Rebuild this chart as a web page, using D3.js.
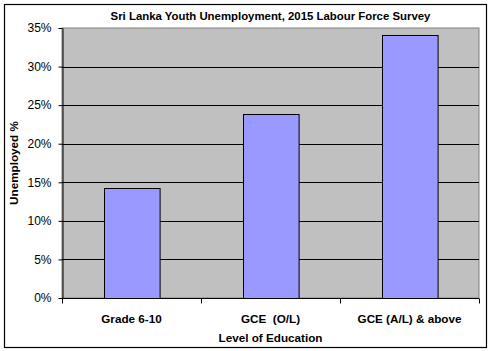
<!DOCTYPE html>
<html>
<head>
<meta charset="utf-8">
<script src="https://cdn.jsdelivr.net/npm/d3@7"></script>
<style>
  body { margin: 0; background: #fff; }
  text { font-family: "Liberation Sans", Arial, sans-serif; }
</style>
</head>
<body>
<script>
// data
var categories = ["Grade 6-10", "GCE  (O/L)", "GCE (A/L) & above"];
var unemployed = [14.2, 23.9, 34.1];
var yTicks = [0, 5, 10, 15, 20, 25, 30, 35];

var W = 489, H = 351;
var margin = {top: 28, right: 10, bottom: 53, left: 62},
    width = 479 - margin.left,
    height = 298 - margin.top;

var svg = d3.select("body").append("svg")
    .attr("width", W)
    .attr("height", H);

// outer chart border
svg.append("rect")
    .attr("x", 4.5).attr("y", 4.5)
    .attr("width", 482).attr("height", 343)
    .attr("fill", "#fff")
    .attr("stroke", "#000")
    .attr("stroke-width", 1.2);

var g = svg.append("g")
    .attr("transform", "translate(" + margin.left + "," + margin.top + ")");

var x = d3.scaleBand()
    .domain(categories)
    .range([0, width])
    .paddingInner(0.6)
    .paddingOuter(0.3);

var y = d3.scaleLinear()
    .domain([0, 35])
    .range([height, 0]);

// plot area
g.append("rect")
    .attr("width", width).attr("height", height)
    .attr("fill", "#c0c0c0")
    .attr("stroke", "#808080")
    .attr("stroke-width", 1);

// gridlines
g.selectAll(".grid")
    .data(yTicks.slice(1, -1))
    .enter().append("line")
    .attr("x1", 0).attr("x2", width)
    .attr("y1", function(d) { return Math.round(y(d)) + 0.5; })
    .attr("y2", function(d) { return Math.round(y(d)) + 0.5; })
    .attr("stroke", "#000")
    .attr("stroke-width", 1);

// bars
g.selectAll(".bar")
    .data(unemployed)
    .enter().append("rect")
    .attr("x", function(d, i) { return Math.round(x(categories[i])) + 0.5; })
    .attr("y", function(d) { return Math.round(y(d)) + 0.5; })
    .attr("width", x.bandwidth())
    .attr("height", function(d) { return height - Math.round(y(d)); })
    .attr("fill", "#9999ff")
    .attr("stroke", "#000")
    .attr("stroke-width", 1);

// y axis
var yAxis = g.append("g")
    .attr("transform", "translate(0.5,0)")
    .call(d3.axisLeft(y).tickValues(yTicks).tickSize(4).tickSizeOuter(0)
        .tickFormat(function(d) { return d + "%"; }));
yAxis.select(".domain").attr("stroke", "#000");
yAxis.selectAll("text")
    .attr("font-size", 12)
    .attr("fill", "#000")
    .attr("font-family", "Liberation Sans, Arial, sans-serif")
    .attr("dx", -4);

// x axis: ticks at band boundaries
var xAxis = g.append("g")
    .attr("transform", "translate(0," + (height + 0.5) + ")");
xAxis.append("line")
    .attr("x1", 0).attr("x2", width)
    .attr("stroke", "#000");
var step = width / categories.length;
xAxis.selectAll(".tick")
    .data(d3.range(categories.length + 1))
    .enter().append("line")
    .attr("x1", function(d) { return Math.round(d * step) + 0.5; })
    .attr("x2", function(d) { return Math.round(d * step) + 0.5; })
    .attr("y1", 0).attr("y2", 5)
    .attr("stroke", "#000");
xAxis.selectAll("text")
    .data(categories)
    .enter().append("text")
    .attr("x", function(d) { return x(d) + x.bandwidth() / 2; })
    .attr("y", 24)
    .attr("text-anchor", "middle")
    .attr("font-size", 11.7)
    .attr("font-weight", "bold")
    .style("white-space", "pre")
    .text(function(d) { return d; });

// titles
svg.append("text")
    .attr("x", margin.left + width / 2)
    .attr("y", 20)
    .attr("text-anchor", "middle")
    .attr("font-size", 11.4)
    .attr("font-weight", "bold")
    .text("Sri Lanka Youth Unemployment, 2015 Labour Force Survey");

svg.append("text")
    .attr("x", margin.left + width / 2)
    .attr("y", 342)
    .attr("text-anchor", "middle")
    .attr("font-size", 11.7)
    .attr("font-weight", "bold")
    .text("Level of Education");

svg.append("text")
    .attr("transform", "translate(18," + (margin.top + height / 2) + ") rotate(-90)")
    .attr("text-anchor", "middle")
    .attr("font-size", 11.7)
    .attr("font-weight", "bold")
    .text("Unemployed %");
</script>
</body>
</html>
